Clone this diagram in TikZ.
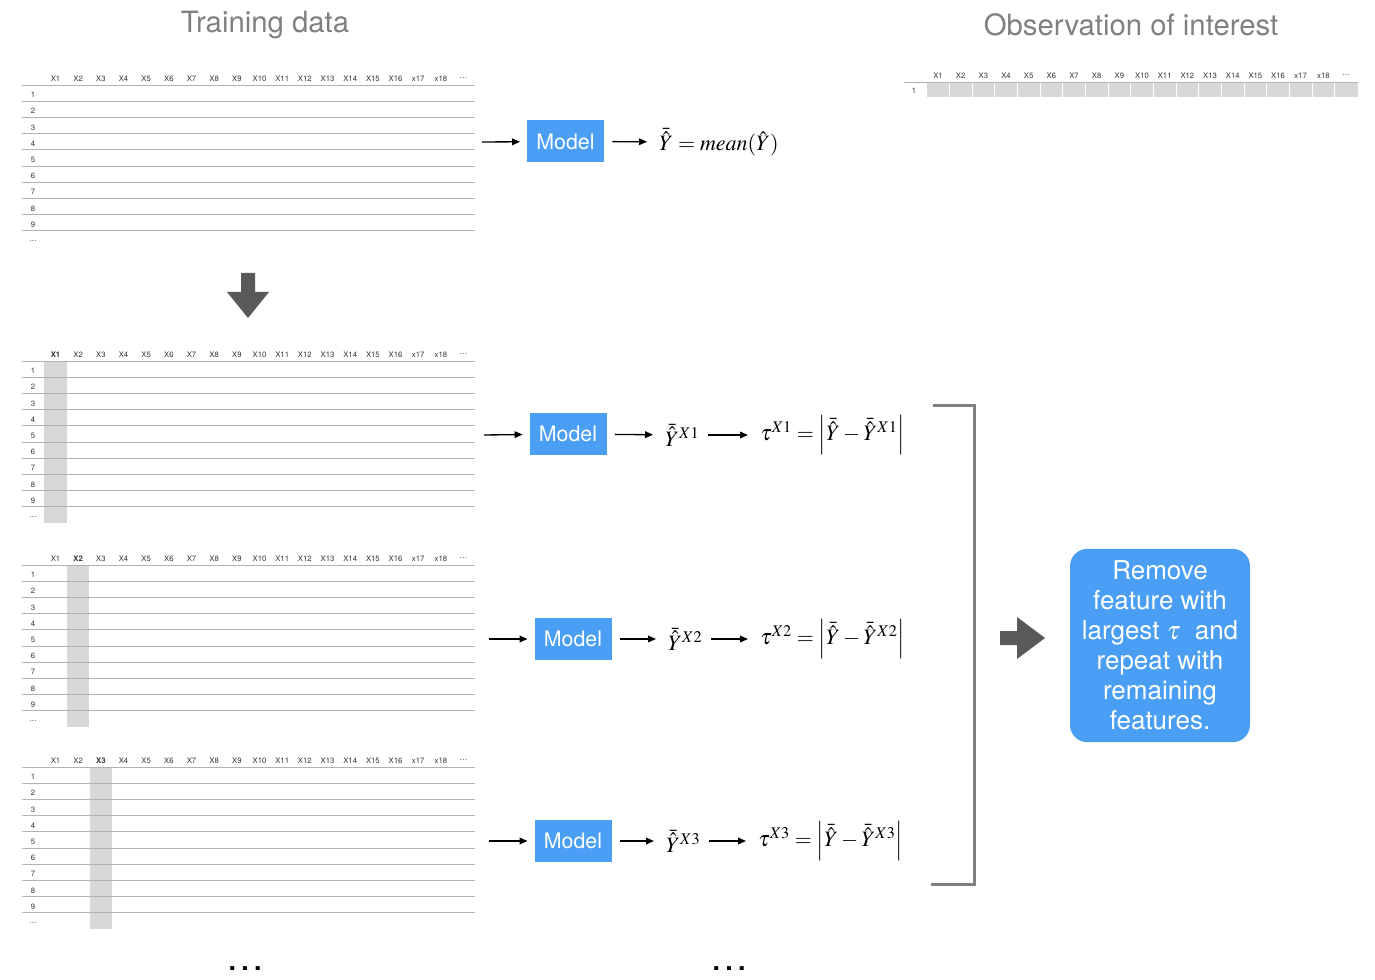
\documentclass[tikz,border=0pt]{standalone}
\usepackage{mathptmx}
\usepackage{fontspec}
\setmainfont{TeX Gyre Heros}
\usetikzlibrary{arrows.meta}

\definecolor{modelblue}{RGB}{74,159,245}
\definecolor{cellgray}{RGB}{216,216,216}
\definecolor{rulegray}{RGB}{178,178,178}
\definecolor{titlegray}{RGB}{128,128,128}
\definecolor{blockgray}{RGB}{89,89,89}

% feature table: #1 name, #2 y of header row, #3 shaded column (0 = none)
\newcommand{\featuretable}[3]{%
  \ifnum#3>0
    \fill[cellgray] ({44.2+(#3-1)*22.67},{#2+7}) rectangle ++(22.6,162);
  \fi
  \foreach \k in {0,...,9}
    \draw[rowrule] (22,{#2+7+\k*16.2}) -- (475,{#2+7+\k*16.2});
  \foreach \lab [count=\c] in {X1,X2,X3,X4,X5,X6,X7,X8,X9,X10,X11,X12,X13,X14,X15,X16,x17,x18,\ldots}
    \node[hdr] (#1-h\c) at ({55.5+(\c-1)*22.67},{#2+0.5}) {\ifnum\c=#3\bfseries\fi\lab};
  \foreach \lab [count=\c] in {1,2,3,4,5,6,7,8,9,\ldots}
    \node[hdr] (#1-r\c) at (33,{#2+7+(\c-0.38)*16.2}) {\lab};
}

\begin{document}
\begin{tikzpicture}[x=0.75pt,y=0.75pt,yscale=-1,xscale=1,
  hdr/.style={inner sep=0pt, text=black!80, font=\fontsize{5.8}{6}\selectfont},
  rowrule/.style={draw=rulegray, line width=0.6pt},
  title/.style={inner sep=0pt, text=titlegray, font=\fontsize{22}{26}\selectfont},
  model/.style={fill=modelblue, text=white, minimum width=57.75pt, minimum height=31.5pt, inner sep=0pt, font=\fontsize{16}{19}\selectfont},
  formula/.style={anchor=west, inner sep=0pt, font=\fontsize{16.5}{19}\selectfont},
  arr/.style={-{Triangle[length=6pt,width=5pt]}, line width=1pt, shorten <=6pt, shorten >=9pt},
  remove/.style={fill=modelblue, text=white, rounded corners=13pt, minimum width=135pt, minimum height=145pt, align=center, font=\fontsize{19.5}{22.5}\selectfont},
  dotsnode/.style={inner sep=0pt, font=\fontsize{20}{24}\selectfont\bfseries}]
\useasboundingbox (0,0) rectangle (1375,980);

% titles
\node[title] (ttrain) at (265,25) {Training data};
\node[title] (tobs) at (1131,25) {Observation of interest};

% training tables
\featuretable{tA}{78}{0}
\featuretable{tB}{354}{1}
\featuretable{tC}{558}{2}
\featuretable{tD}{760}{3}

% observation of interest
\fill[cellgray] (927,83) rectangle (1358,97);
\foreach \c in {1,...,18}
  \draw[white, line width=0.5pt] ({938+(\c-0.5)*22.67},83) -- ++(0,14);
\draw[rowrule] (904,82) -- (1358,82);
\foreach \lab [count=\c] in {X1,X2,X3,X4,X5,X6,X7,X8,X9,X10,X11,X12,X13,X14,X15,X16,x17,x18,\ldots}
  \node[hdr] (obs-h\c) at ({938+(\c-1)*22.67},75.5) {\lab};
\node[hdr] (obs-r1) at (914,91) {1};

% down arrow
\fill[blockgray] (241,273) -- (255,273) -- (255,292) -- (269,292) -- (248,318) -- (227,292) -- (241,292) -- cycle;

% models
\coordinate (tA-out) at (482,142);
\coordinate (tB-out) at (484,435);
\coordinate (tC-out) at (489,639);
\coordinate (tD-out) at (489,841);
\node[model] (mA) at (565.5,141.5) {Model};
\node[model] (mB) at (568,434) {Model};
\node[model] (mC) at (573,639) {Model};
\node[model] (mD) at (573,841) {Model};

\node[formula] (fA) at (659,142) {$\bar{\hat{Y}} = mean(\hat{Y})$};
\node[formula] (yB) at (665,435) {$\bar{\hat{Y}}{}^{X1}$};
\node[formula] (yC) at (668,639) {$\bar{\hat{Y}}{}^{X2}$};
\node[formula] (yD) at (666,841) {$\bar{\hat{Y}}{}^{X3}$};
\node[formula] (tauB) at (760,435) {$\tau^{X1} = \Big|\bar{\hat{Y}} - \bar{\hat{Y}}{}^{X1}\Big|$};
\node[formula] (tauC) at (760,639) {$\tau^{X2} = \Big|\bar{\hat{Y}} - \bar{\hat{Y}}{}^{X2}\Big|$};
\node[formula] (tauD) at (758,841) {$\tau^{X3} = \Big|\bar{\hat{Y}} - \bar{\hat{Y}}{}^{X3}\Big|$};

\foreach \r in {A,B,C,D}
  \draw[arr, shorten <=0pt, shorten >=5pt] (t\r-out) -- (m\r);
\draw[arr] (mA) -- (fA);
\foreach \r in {B,C,D} {
  \draw[arr] (m\r) -- (y\r);
  \draw[arr] (y\r) -- (tau\r);
}

% bracket
\draw[titlegray, line width=2.25pt] (933,406) -- (974,406) -- (974,884) -- (931,884);

% right arrow
\fill[blockgray] (1000,631) -- (1017,631) -- (1017,617) -- (1045,638) -- (1017,659) -- (1017,645) -- (1000,645) -- cycle;

\node[remove] (rm) at (1160,645.5) {Remove\\feature with\\largest~$\tau$~ and\\repeat with\\remaining\\features.};

% more
\node[dotsnode] (moreT) at (245,969) {.\hspace{4pt}.\hspace{4pt}.};
\node[dotsnode] (moreM) at (729,969) {.\hspace{4pt}.\hspace{4pt}.};

\end{tikzpicture}
\end{document}
